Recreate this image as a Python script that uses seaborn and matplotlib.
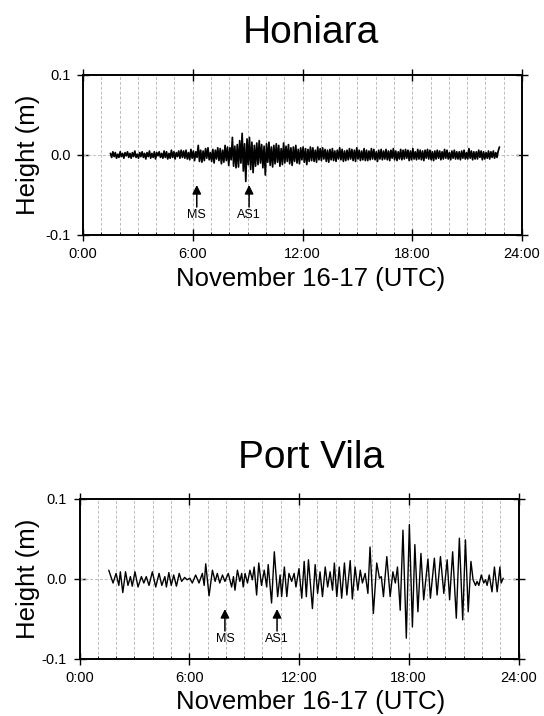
import numpy as np
import pandas as pd
import matplotlib
matplotlib.use('Agg')
import matplotlib.pyplot as plt
from matplotlib.ticker import MultipleLocator
import seaborn as sns

# Honiara record: one reading every 4 minutes from 1:30, in mm (15 per hour)
honiara_start_min = 90
honiara_step_min = 4
honiara_mm = [
    2, -3, 4, -2, 3, -4, 1, -3, 4, -2, 2, -4, 3, -1, 4,
    -3, 2, -4, 3, -2, 5, -3, 1, -4, 3, -2, 4, -3, 2, -5,
    3, -2, 5, -4, 2, -3, 4, -5, 3, -1, 4, -3, 2, -4, 5,
    -3, 4, -5, 2, -4, 6, -3, 4, -5, 3, -2, 5, -4, 6, -3,
    5, -4, 6, -5, 3, -6, 7, -4, 5, -7, 4, -3, 12, -8, 6,
    -9, 5, -7, 8, -4, 9, -6, 3, -8, 7, -10, 6, -5, 9, -7,
    8, -11, 6, -9, 12, -7, 10, -13, 9, -6, 22, -14, 11, -16, 13,
    -15, 18, -10, 27, -20, 14, -33, 20, -12, 22, -18, 16, -22, 12, -14,
    15, -12, 18, -10, 13, -16, 11, -25, 14, -9, 16, -13, 10, -15, 12,
    -11, 14, -9, 12, -14, 8, -12, 15, -10, 11, -8, 13, -11, 9, -13,
    10, -8, 12, -10, 7, -11, 9, -6, 10, -9, 8, -12, 7, -8, 10,
    -7, 9, -8, 6, -9, 10, -6, 8, -7, 9, -5, 7, -8, 6, -9,
    7, -6, 8, -7, 5, -8, 6, -5, 9, -6, 7, -8, 5, -7, 6,
    -6, 8, -5, 7, -7, 6, -8, 9, -5, 6, -7, 5, -6, 8, -7,
    6, -7, 5, -6, 8, -5, 7, -6, 4, -8, 6, -5, 7, -6, 5,
    -5, 7, -6, 5, -7, 6, -4, 8, -6, 5, -7, 4, -5, 7, -6,
    6, -5, 7, -4, 6, -7, 5, -6, 8, -5, 4, -6, 7, -5, 6,
    -6, 5, -7, 6, -4, 7, -5, 6, -6, 4, -7, 5, -5, 6, -4,
    5, -6, 4, -5, 7, -4, 6, -5, 3, -6, 5, -4, 6, -5, 4,
    -5, 4, -6, 5, -4, 6, -5, 3, -5, 8, -4, 5, -6, 4, -5,
    4, -5, 6, -3, 5, -6, 4, -5, 3, -4, 5, -5, 4, -3, 5,
    -4, 3, -3, 5, 10,
]

# Port Vila record: crests and troughs (minutes after 0:00, metres)
portvila_min = [
    96, 110, 120, 129, 134, 142, 151, 159, 167, 173,
    182, 192, 203, 211, 219, 228, 239, 250, 261, 270,
    280, 285, 293, 301, 309, 318, 327, 335, 345, 353,
    362, 370, 381, 392, 403, 409, 414, 425, 436, 445,
    452, 460, 469, 477, 488, 499, 505, 510,
    518, 526, 532, 537, 543, 551, 559, 567, 573, 581,
    588, 597, 606, 614, 619, 630, 639, 650, 658, 663,
    672, 680, 687, 696, 704, 710, 720, 729, 737, 744,
    751, 764, 773, 781, 789, 797, 806, 814, 822, 830,
    836, 844, 852, 860, 869, 877, 888, 895, 904, 913,
    921, 928, 937, 946,
    953, 964, 975, 984, 990, 997, 1008, 1019, 1028, 1036,
    1043, 1052, 1061, 1072, 1082, 1092, 1100, 1110, 1120, 1129,
    1143, 1151, 1164, 1173, 1184, 1195, 1206, 1214, 1224, 1236,
    1246, 1257, 1266, 1275, 1284, 1291, 1299, 1304, 1310, 1318,
    1326, 1332, 1337, 1344, 1353, 1361, 1370, 1379, 1383, 1390,
]
portvila_m = [
    0.011, -0.005, 0.007, -0.008, 0.009, -0.017, 0.009, -0.008, 0.003, -0.009,
    0.009, -0.010, 0.003, -0.005, 0.003, -0.008, 0.009, -0.010, 0.007, -0.008,
    0.003, -0.010, 0.008, -0.008, 0.005, -0.009, 0.007, -0.003, 0.002, -0.001,
    0.001, -0.005, 0.005, -0.005, 0.007, -0.008, 0.019, -0.021, 0.011, -0.003,
    0.007, -0.005, 0.005, -0.003, 0.007, -0.010, 0.003, -0.014,
    0.011, -0.003, 0.007, -0.010, 0.007, -0.005, 0.011, -0.001, 0.015, -0.020,
    0.020, -0.008, 0.011, -0.010, 0.018, -0.030, 0.034, -0.022, 0.005, -0.022,
    0.015, -0.022, 0.007, -0.003, 0.007, -0.010, 0.013, -0.024, 0.022, -0.022,
    0.024, -0.037, 0.018, -0.018, 0.009, -0.022, 0.015, -0.010, 0.009, -0.014,
    0.020, -0.022, 0.015, -0.024, 0.020, -0.020, 0.023, -0.025, 0.015, -0.014,
    0.011, -0.005, 0.007, -0.018,
    0.040, -0.043, 0.020, 0.001, 0.003, -0.022, 0.028, -0.022, 0.009, -0.005,
    0.015, -0.039, 0.061, -0.074, 0.068, -0.060, 0.043, -0.041, 0.032, -0.026,
    0.025, -0.024, 0.026, -0.020, 0.028, -0.018, 0.024, -0.026, 0.034, -0.049,
    0.051, -0.051, 0.049, -0.041, 0.022, -0.001, -0.008, -0.003, -0.008, 0.005,
    -0.005, -0.001, -0.008, 0.005, -0.016, 0.015, -0.016, 0.015, -0.005, 0.001,
]

# event arrows (hours)
honiara_events = {'MS': 6.22, 'AS1': 9.08}
portvila_events = {'MS': 7.95, 'AS1': 10.8}

tick_hours = [0, 6, 12, 18, 24]
tick_labels = ['0:00', '6:00', '12:00', '18:00', '24:00']
y_ticks = [-0.1, 0.0, 0.1]
y_labels = ['-0.1', '0.0', '0.1']

honiara = pd.DataFrame({
    'hours': (honiara_start_min + honiara_step_min * np.arange(len(honiara_mm))) / 60,
    'height': np.array(honiara_mm) / 1000,
})
portvila = pd.DataFrame({'hours': np.array(portvila_min) / 60, 'height': portvila_m})

sns.set_theme(style='ticks')
plt.rcParams['font.family'] = ['Liberation Sans', 'DejaVu Sans']
plt.rcParams.update({'text.color': 'black', 'axes.labelcolor': 'black',
                     'xtick.color': 'black', 'ytick.color': 'black'})

fig = plt.figure(figsize=(5.44, 7.16), dpi=100)
ax_top = fig.add_axes([83 / 544, 481 / 716, 439 / 544, 160 / 716])
ax_bot = fig.add_axes([79.5 / 544, 57 / 716, 439 / 544, 160 / 716])

title_x = 311 / 544


def draw_panel(ax, df, lw, title, title_y, xlabel_y, ylabel_y, events):
    sns.lineplot(data=df, x='hours', y='height', ax=ax, color='black', lw=lw,
                 estimator=None, sort=False, zorder=3, solid_joinstyle='round')
    ax.set_xlim(0, 24)
    ax.set_ylim(-0.1, 0.1)
    ax.set_xticks(tick_hours)
    ax.set_xticklabels(tick_labels, fontsize=10.5)
    ax.xaxis.set_minor_locator(MultipleLocator(1))
    ax.set_yticks(y_ticks)
    ax.set_yticklabels(y_labels, fontsize=10.5)
    ax.tick_params(which='major', direction='inout', length=8, width=1,
                   top=True, right=True, color='black', pad=5)
    ax.tick_params(which='minor', axis='x', direction='in', length=2.5,
                   width=0.6, top=False, color='black')
    ax.grid(which='both', axis='x', color='#bdbdbd', ls=(0, (3, 2)), lw=0.7)
    ax.axhline(0, color='#bdbdbd', ls=(0, (3, 2)), lw=0.7, zorder=1)
    ax.set_axisbelow(True)
    for s in ax.spines.values():
        s.set_linewidth(1.4)
        s.set_color('black')

    ax.set_xlabel('November 16-17 (UTC)', fontsize=18.5, va='baseline')
    ax.xaxis.set_label_coords(title_x, xlabel_y, transform=fig.transFigure)
    ax.set_ylabel('Height (m)', fontsize=18.5, va='center')
    ax.yaxis.set_label_coords(28 / 544, ylabel_y, transform=fig.transFigure)
    fig.text(title_x, title_y, title, fontsize=28, ha='center', va='baseline')

    for name, t in events.items():
        ax.annotate('', xy=(t, -0.0375), xytext=(t, -0.065),
                    arrowprops=dict(arrowstyle='-|>', color='black', lw=1.1,
                                    mutation_scale=13, shrinkA=0, shrinkB=0))
        ax.text(t, -0.075, name, fontsize=9, ha='center', va='center',
                family=['Liberation Sans Narrow', 'Liberation Sans', 'DejaVu Sans'])


draw_panel(ax_top, honiara, 1.25, 'Honiara', 673 / 716, 430 / 716, 561 / 716, honiara_events)
draw_panel(ax_bot, portvila, 1.0, 'Port Vila', 248 / 716, 7 / 716, 137 / 716, portvila_events)

fig.savefig('out.png', dpi=100)
